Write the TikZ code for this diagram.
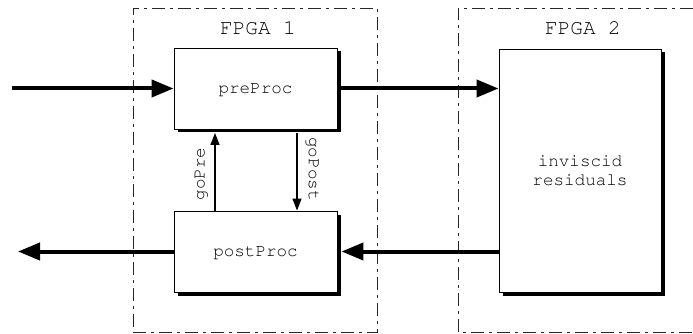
\documentclass[tikz,border=0pt]{standalone}
\usepackage[T1]{fontenc}
\usetikzlibrary{arrows.meta,shadows}
% Courier-style typewriter face for all labels
\newcommand{\cour}[1]{\fontencoding{T1}\fontfamily{pcr}\fontsize{#1}{#1}\selectfont}
\begin{document}
\begin{tikzpicture}[x=1pt,y=-1pt,
  region/.style={draw=black!85, line width=0.9pt, dash pattern=on 13pt off 5pt on 3pt off 5pt},
  block/.style={draw, line width=0.9pt, fill=white, inner sep=0pt, align=center,
    font=\cour{17.6}, text depth=0pt,
    drop shadow={shadow xshift=3.5pt, shadow yshift=-3.5pt, opacity=1, fill=black}},
  bus/.style={line width=4pt, -{Triangle[length=22pt,width=17pt]}},
  sig/.style={line width=1.3pt, -{Triangle[length=12pt,width=9pt]}},
  title/.style={font=\cour{21}},
  lbl/.style={font=\cour{17.6}}]
\useasboundingbox (0,0) rectangle (693,334);

% FPGA regions
\node[region, minimum width=244pt, minimum height=324pt, inner sep=0pt] (fpga1) at (255,170) {};
\draw[region] (693,8) -- (458,8) -- (458,332) -- (693,332);
\node[title] (t1) at (258,28) {FPGA 1};
\node[title] (t2) at (583,28) {FPGA 2};

% processing blocks
\node[block, minimum width=163pt, minimum height=81pt] (pre) at (255.5,88.5) {preProc};
\node[block, minimum width=163pt, minimum height=81pt] (post) at (255.5,251.5) {postProc};
\node[block, minimum width=162pt, minimum height=243pt] (inv) at (580,170.5) {inviscid\\[1pt]residuals};

% external ends
\coordinate (in) at (12,88.5);
\coordinate (out) at (18,251.5);

% data buses
\draw[bus] (in) -- (pre.west);
\draw[bus] (pre.east) -- (inv.west |- pre.east);
\draw[bus] (inv.west |- post.east) -- ([xshift=4pt]post.east);
\draw[bus] (post.west) -- (out);

% handshake signals
\draw[sig] ([xshift=-40.5pt]post.north) -- ([xshift=-40.5pt,yshift=-3.5pt]pre.south);
\draw[sig] ([xshift=41.5pt,yshift=-3.5pt]pre.south) -- ([xshift=41.5pt]post.north);
\node[lbl, rotate=90] (lpre) at (201,174) {goPre};
\node[lbl, rotate=-90] (lpost) at (312.5,169) {goPost};
\end{tikzpicture}
\end{document}
